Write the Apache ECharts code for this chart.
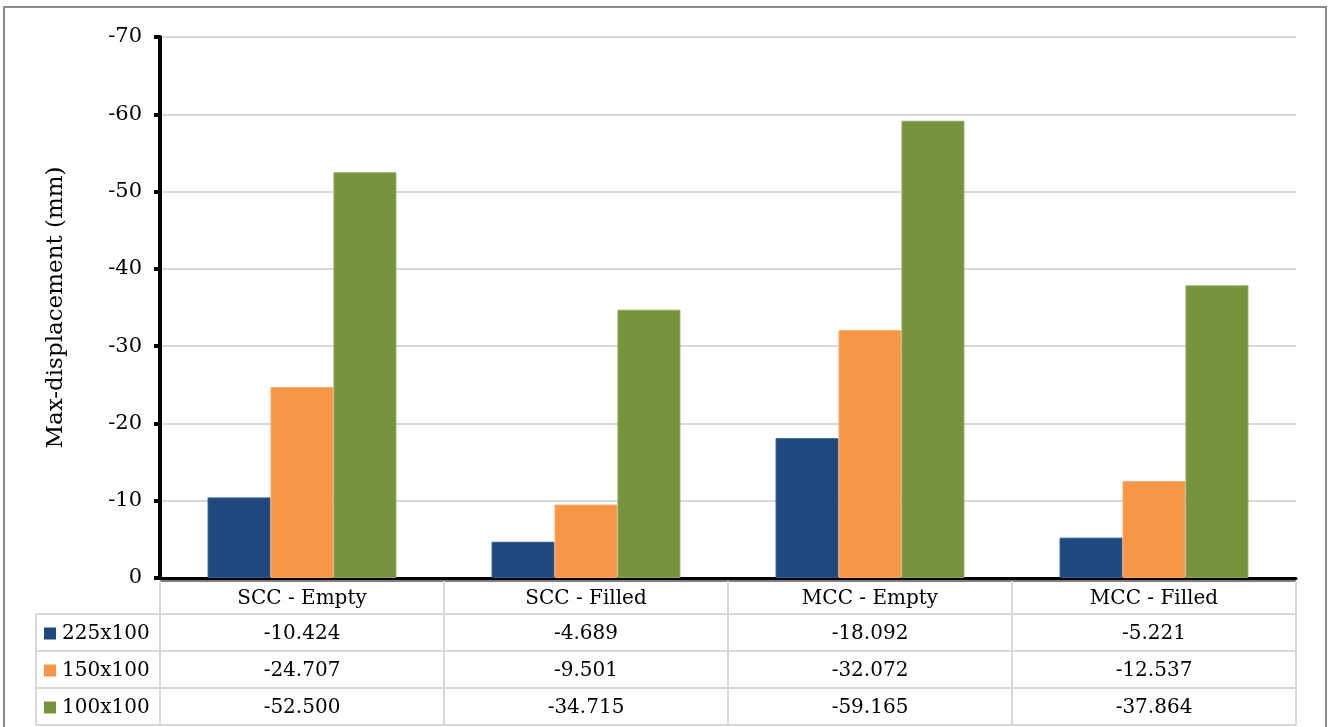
<!DOCTYPE html>
<html>
<head>
<meta charset="utf-8">
<script src="https://cdn.jsdelivr.net/npm/echarts@6/dist/echarts.min.js"></script>
<style>
  html, body { margin: 0; padding: 0; background: #ffffff; }
  #chart { width: 1330px; height: 727px; }
</style>
</head>
<body>
<div id="chart"></div>
<script>
// Maximum displacement per column type and section size
const categories = ['SCC - Empty', 'SCC - Filled', 'MCC - Empty', 'MCC - Filled'];
const seriesNames = ['225x100', '150x100', '100x100'];
const values225 = [-10.424, -4.689, -18.092, -5.221];
const values150 = [-24.707, -9.501, -32.072, -12.537];
const values100 = [-52.500, -34.715, -59.165, -37.864];
const seriesValues = [values225, values150, values100];
const yMin = -70, yMax = 0, yInterval = 10;

const colors = ['#1F497D', '#F79646', '#77933C'];
const borders = ['#2f5a8f', '#f9a965', '#8fa85a'];
const FONT = '"DejaVu Serif", "Liberation Serif", serif';

const GRID_LEFT = 160, GRID_RIGHT = 1296, GRID_TOP = 37, GRID_BOTTOM = 578;

const chart = echarts.init(document.getElementById('chart'), null, { renderer: 'canvas' });

const series = seriesNames.map((name, i) => ({
  name: name,
  type: 'bar',
  data: seriesValues[i],
  barGap: '0%',
  barCategoryGap: '33.5%',
  itemStyle: { color: colors[i], borderColor: borders[i], borderWidth: 1 }
}));

chart.setOption({
  animation: false,
  backgroundColor: '#ffffff',
  grid: {
    left: GRID_LEFT,
    right: 1330 - GRID_RIGHT,
    top: GRID_TOP,
    bottom: 727 - GRID_BOTTOM,
    containLabel: false
  },
  xAxis: {
    type: 'category',
    data: categories,
    axisLine: { show: true, onZero: false, lineStyle: { color: '#000', width: 3 } },
    axisTick: { show: false },
    axisLabel: {
      show: true,
      margin: 11,
      fontFamily: FONT,
      fontSize: 20,
      color: '#000'
    },
    splitLine: { show: false }
  },
  yAxis: {
    type: 'value',
    inverse: true,
    min: yMin,
    max: yMax,
    interval: yInterval,
    name: 'Max-displacement (mm)',
    nameLocation: 'middle',
    nameGap: 92,
    nameTextStyle: { fontFamily: FONT, fontSize: 23, color: '#000' },
    axisLine: { show: true, lineStyle: { color: '#000', width: 4 } },
    axisTick: { show: true, inside: false, length: 6, lineStyle: { color: '#000', width: 4 } },
    axisLabel: { margin: 18, fontFamily: FONT, fontSize: 21, color: '#000' },
    splitLine: { show: true, lineStyle: { color: '#D9D9D9', width: 2 } }
  },
  series: series
});

// Data table beneath the plot area
const lineColor = '#D9D9D9';
const colW = (GRID_RIGHT - GRID_LEFT) / categories.length;
const headerTop = 581, headerBottom = 614;
const rowH = 37;
const legendLeft = 36;
const graphics = [];

function hLine(x1, x2, y, color, w) {
  graphics.push({ type: 'line', silent: true, z: 10,
    shape: { x1: x1, y1: y, x2: x2, y2: y },
    style: { stroke: color || lineColor, lineWidth: w || 2 } });
}
function vLine(x, y1, y2) {
  graphics.push({ type: 'line', silent: true, z: 10,
    shape: { x1: x, y1: y1, x2: x, y2: y2 },
    style: { stroke: lineColor, lineWidth: 2 } });
}

const tableBottom = headerBottom + rowH * seriesNames.length;
hLine(GRID_LEFT, GRID_RIGHT, headerTop, '#555555', 1.5);
hLine(legendLeft, GRID_RIGHT, headerBottom);
for (let r = 1; r <= seriesNames.length; r++) hLine(legendLeft, GRID_RIGHT, headerBottom + rowH * r);
vLine(legendLeft, headerBottom, tableBottom);
for (let c = 0; c <= categories.length; c++) vLine(GRID_LEFT + colW * c, headerTop, tableBottom);

seriesNames.forEach((name, r) => {
  const cy = headerBottom + rowH * r + rowH / 2 + 1;
  graphics.push({ type: 'rect', silent: true, z: 11,
    shape: { x: 44, y: cy - 6, width: 12, height: 12 },
    style: { fill: colors[r] } });
  graphics.push({ type: 'text', silent: true, z: 11, x: 62, y: cy,
    style: { text: name, font: '20px ' + FONT, fill: '#000', align: 'left', verticalAlign: 'middle' } });
  seriesValues[r].forEach((v, c) => {
    graphics.push({ type: 'text', silent: true, z: 11,
      x: GRID_LEFT + colW * c + colW / 2, y: cy,
      style: { text: v.toFixed(3), font: '20px ' + FONT, fill: '#000', align: 'center', verticalAlign: 'middle' } });
  });
});

// Outer frame
graphics.push({ type: 'rect', silent: true, z: 20,
  shape: { x: 4, y: 7, width: 1322, height: 740 },
  style: { fill: 'none', stroke: '#8a8a8a', lineWidth: 2 } });

chart.setOption({ graphic: graphics });
</script>
</body>
</html>
